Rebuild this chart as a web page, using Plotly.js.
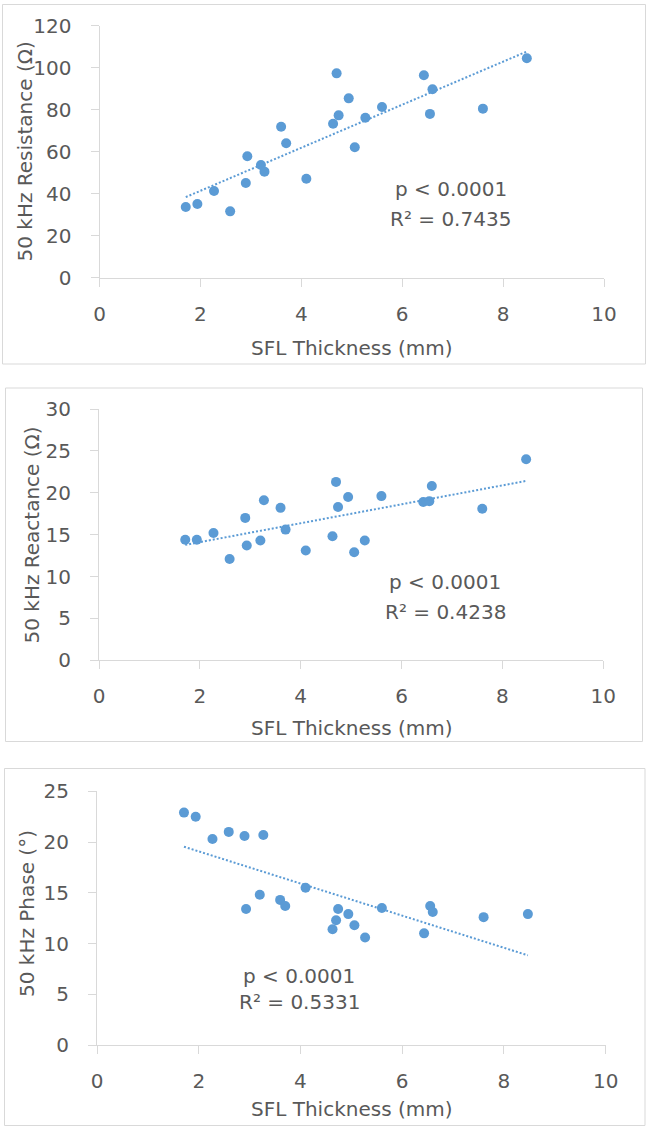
<!DOCTYPE html>
<html>
<head>
<meta charset="utf-8">
<script src="https://cdn.plot.ly/plotly-3.0.1.min.js"></script>
<style>
  html, body { margin: 0; padding: 0; background: #ffffff; }
  #chart { width: 650px; height: 1130px; }
</style>
</head>
<body>
<div id="chart"></div>
<script>
// ---- Data ----
const sflThickness = [1.71, 1.94, 2.27, 2.59, 2.90, 2.93, 3.20, 3.27, 3.60, 3.70, 4.10, 4.63,
                      4.70, 4.74, 4.94, 5.06, 5.27, 5.60, 6.43, 6.55, 6.60, 7.60, 8.47];
const resistance = [33.7, 35.1, 41.3, 31.6, 45.1, 57.8, 53.7, 50.5, 71.9, 64.0, 47.1, 73.3,
                    97.3, 77.3, 85.4, 62.1, 76.2, 81.3, 96.4, 78.0, 89.7, 80.5, 104.5];
const reactance = [14.4, 14.4, 15.2, 12.1, 17.0, 13.7, 14.3, 19.1, 18.2, 15.6, 13.1, 14.8,
                   21.3, 18.3, 19.5, 12.9, 14.3, 19.6, 18.9, 19.0, 20.8, 18.1, 24.0];
const phase = [22.9, 22.5, 20.3, 21.0, 20.6, 13.4, 14.8, 20.7, 14.3, 13.7, 15.5, 11.4,
               12.3, 13.4, 12.9, 11.8, 10.6, 13.5, 11.0, 13.7, 13.1, 12.6, 12.9];

const yTitles = ["50 kHz Resistance (Ω)", "50 kHz Reactance (Ω)", "50 kHz Phase (°)"];
const xTitle = "SFL Thickness (mm)";
const pTexts = ["p < 0.0001", "p < 0.0001", "p < 0.0001"];
const r2Texts = ["R² = 0.7435", "R² = 0.4238", "R² = 0.5331"];
const yRanges = [[0, 120], [0, 30], [0, 25]];
const yDticks = [20, 5, 5];
const xRange = [0, 10];
const xDtick = 2;

// ---- Layout geometry (pixels) ----
const W = 650, H = 1130;
const fx = v => v / W;
const fy = v => 1 - v / H;

const panels = [
  { plot: [99.5, 604, 25.7, 277.7], frame: [2.5, 645.5, 4.5, 364], yTitleX: 24, yTitleY: 151.5, xTitleY: 348, stat: [450.5, 189, 219] },
  { plot: [99, 603.3, 409, 660.3], frame: [5.5, 642.5, 388, 741.5], yTitleX: 31, yTitleY: 535.5, xTitleY: 728, stat: [445, 582, 612] },
  { plot: [97, 605.7, 791.3, 1045], frame: [4.5, 645, 768.5, 1125.5], yTitleX: 27, yTitleY: 914, xTitleY: 1108.5, stat: [299, 976, 1002] }
];
const series = [resistance, reactance, phase];

const BLUE = "#5b9bd5";
const TEXT = "#595959";
const AXIS = "#d9d9d9";
const FONT = "DejaVu Sans";

function linreg(xs, ys) {
  const n = xs.length;
  let sx = 0, sy = 0, sxx = 0, sxy = 0;
  for (let i = 0; i < n; i++) { sx += xs[i]; sy += ys[i]; sxx += xs[i] * xs[i]; sxy += xs[i] * ys[i]; }
  const b = (n * sxy - sx * sy) / (n * sxx - sx * sx);
  const a = (sy - b * sx) / n;
  return { a, b };
}

const data = [];
const layout = {
  width: W, height: H,
  margin: { l: 0, r: 0, t: 0, b: 0 },
  paper_bgcolor: "#ffffff",
  plot_bgcolor: "rgba(0,0,0,0)",
  showlegend: false,
  font: { family: FONT, color: TEXT, size: 20 },
  annotations: [],
  shapes: []
};

panels.forEach((p, i) => {
  const k = i === 0 ? "" : String(i + 1);
  const xa = "x" + k, ya = "y" + k;
  const ys = series[i];
  data.push({
    type: "scatter", mode: "markers", x: sflThickness, y: ys,
    xaxis: xa, yaxis: ya,
    marker: { color: BLUE, size: 10 },
    hoverinfo: "x+y"
  });
  const fit = linreg(sflThickness, ys);
  const xmin = Math.min(...sflThickness), xmax = Math.max(...sflThickness);
  data.push({
    type: "scatter", mode: "lines",
    x: [xmin, xmax], y: [fit.a + fit.b * xmin, fit.a + fit.b * xmax],
    xaxis: xa, yaxis: ya,
    line: { color: BLUE, width: 2, dash: "2px,2px" },
    hoverinfo: "skip"
  });

  const axisCommon = {
    showgrid: false, zeroline: false, showline: true,
    linecolor: AXIS, linewidth: 1,
    ticks: "outside", ticklen: 8, tickcolor: AXIS, tickwidth: 1,
    tickfont: { family: FONT, size: 20, color: TEXT },
    fixedrange: true
  };
  layout["xaxis" + k] = Object.assign({}, axisCommon, {
    domain: [fx(p.plot[0]), fx(p.plot[1])],
    range: xRange, dtick: xDtick, tick0: 0,
    anchor: ya, ticklabelstandoff: 10
  });
  layout["yaxis" + k] = Object.assign({}, axisCommon, {
    domain: [fy(p.plot[3]), fy(p.plot[2])],
    range: yRanges[i], dtick: yDticks[i], tick0: 0,
    anchor: xa, ticklabelstandoff: 15
  });

  // frame around each chart
  layout.shapes.push({
    type: "rect", xref: "paper", yref: "paper", layer: "below",
    x0: fx(p.frame[0]), x1: fx(p.frame[1]), y0: fy(p.frame[3]), y1: fy(p.frame[2]),
    line: { color: AXIS, width: 1 }, fillcolor: "rgba(0,0,0,0)"
  });

  const ann = (text, x, y, extra) => Object.assign({
    text, xref: "paper", yref: "paper", x: fx(x), y: fy(y),
    xanchor: "center", yanchor: "middle", showarrow: false,
    font: { family: FONT, size: 20, color: TEXT }
  }, extra || {});

  layout.annotations.push(ann(xTitle, (p.plot[0] + p.plot[1]) / 2, p.xTitleY));
  layout.annotations.push(ann(yTitles[i], p.yTitleX, p.yTitleY, { textangle: -90 }));
  layout.annotations.push(ann(pTexts[i], p.stat[0], p.stat[1]));
  layout.annotations.push(ann(r2Texts[i], p.stat[0], p.stat[2]));
});

Plotly.newPlot("chart", data, layout, { staticPlot: true, displayModeBar: false });
</script>
</body>
</html>
